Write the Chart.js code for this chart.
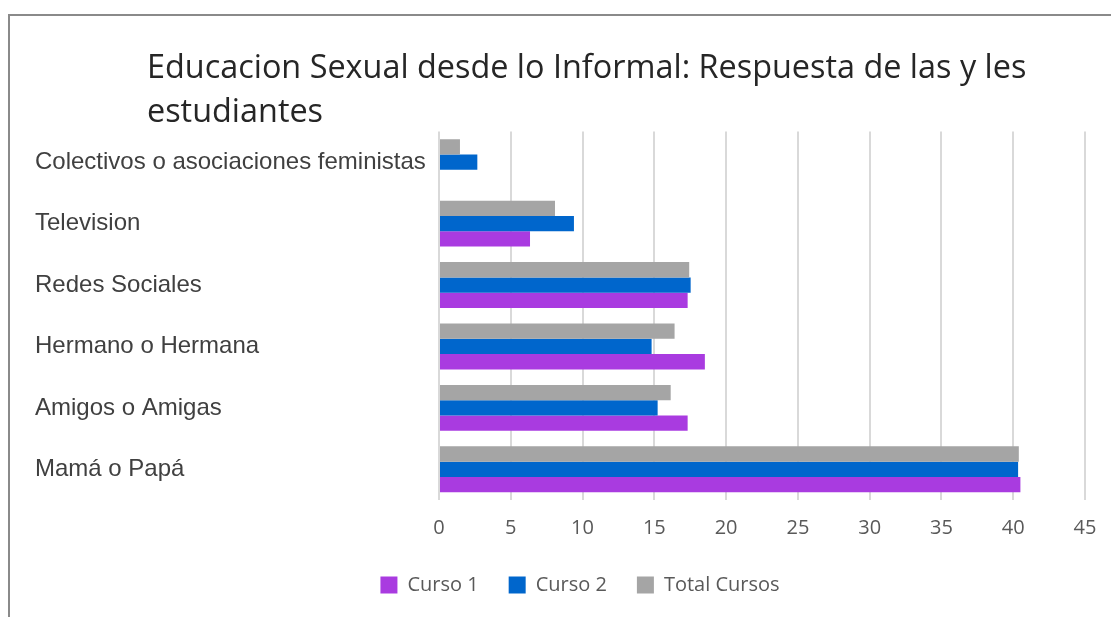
<!DOCTYPE html>
<html>
<head>
<meta charset="utf-8">
<script src="https://cdn.jsdelivr.net/npm/chart.js@4"></script>
<style>
  html, body { margin: 0; padding: 0; background: #ffffff; overflow: hidden; width: 1111px; height: 617px; }
  #frame { position: absolute; left: 8px; top: 14px; width: 1200px; height: 700px;
           border-top: 2px solid #8a8a8a; border-left: 2px solid #8a8a8a; }
  #title { position: absolute; left: 147px; top: 43px; font-family: "Open Sans", sans-serif;
           font-size: 32.4px; line-height: 44px; color: #262626; white-space: nowrap; }
  #wrap { position: absolute; left: 0; top: 0; width: 1125px; height: 617px; }
</style>
</head>
<body>
<div id="frame"></div>
<div id="wrap"><canvas id="c" width="1125" height="617"></canvas></div>
<div id="title">Educacion Sexual desde lo Informal: Respuesta de las y les<br>estudiantes</div>
<script>
const categories = [
  "Colectivos o asociaciones feministas",
  "Television",
  "Redes Sociales",
  "Hermano o Hermana",
  "Amigos o Amigas",
  "Mamá o Papá"
];
const curso1 = [0, 6.34, 17.32, 18.52, 17.32, 40.5];
const curso2 = [2.67, 9.4, 17.53, 14.81, 15.23, 40.34];
const totalCursos = [1.46, 8.08, 17.43, 16.41, 16.14, 40.39];
const xTicks = [0, 5, 10, 15, 20, 25, 30, 35, 40, 45];

const colors = { c1: "#A93BE0", c2: "#0066CC", tot: "#A5A5A5" };

new Chart(document.getElementById("c"), {
  type: "bar",
  data: {
    labels: categories,
    datasets: [
      { label: "Total Cursos", data: totalCursos, backgroundColor: colors.tot },
      { label: "Curso 2", data: curso2, backgroundColor: colors.c2 },
      { label: "Curso 1", data: curso1, backgroundColor: colors.c1 }
    ]
  },
  options: {
    indexAxis: "y",
    responsive: false,
    animation: false,
    devicePixelRatio: 1,
    datasets: { bar: { categoryPercentage: 0.748, barPercentage: 1.0 } },
    layout: { padding: { left: 35, right: 0, top: 131.5, bottom: 12 } },
    scales: {
      x: {
        min: xTicks[0],
        max: xTicks[xTicks.length - 1],
        afterBuildTicks: (s) => { s.ticks = xTicks.map(v => ({ value: v })); },
        afterFit: (s) => { s.height = 45; s.paddingRight = 40; },
        grid: { color: "#D9D9D9", lineWidth: 2, drawTicks: false },
        border: { display: false },
        ticks: { color: "#595959", padding: 16, font: { family: "Open Sans", size: 20 } }
      },
      y: {
        afterFit: (s) => { s.width = 404; },
        grid: { display: false },
        border: { display: false },
        ticks: { color: "#404040", crossAlign: "far", font: { family: "Liberation Sans", size: 24 } }
      }
    },
    plugins: {
      legend: {
        position: "bottom",
        reverse: true,
        labels: {
          boxWidth: 17, boxHeight: 17, padding: 30, color: "#595959",
          font: { family: "Open Sans", size: 20 }
        }
      },
      tooltip: { enabled: false },
      title: { display: false }
    }
  }
});
</script>
</body>
</html>
